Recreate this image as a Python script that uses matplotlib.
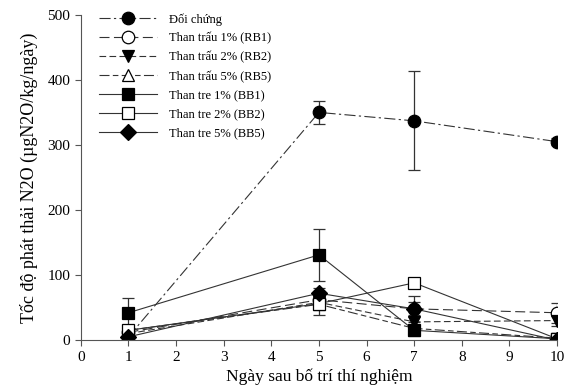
import matplotlib.pyplot as plt

days = [1, 5, 7, 10]

labels = ['Đối chứng', 'Than trấu 1% (RB1)', 'Than trấu 2% (RB2)', 'Than trấu 5% (RB5)',
          'Than tre 1% (BB1)', 'Than tre 2% (BB2)', 'Than tre 5% (BB5)']

dc = [5, 350, 337, 305]
dc_err = [3, 18, 76, 5]
rb1 = [12, 62, 48, 42]
rb1_err = [5, 8, 10, 15]
rb2 = [10, 58, 28, 30]
rb2_err = [4, 6, 8, 8]
rb5 = [15, 55, 18, 3]
rb5_err = [4, 5, 5, 8]
bb1 = [42, 131, 15, 2]
bb1_err = [22, 40, 8, 2]
bb2 = [15, 56, 88, 2]
bb2_err = [5, 18, 3, 2]
bb5 = [5, 72, 48, 0]
bb5_err = [3, 8, 20, 2]

series = [dc, rb1, rb2, rb5, bb1, bb2, bb5]
errors = [dc_err, rb1_err, rb2_err, rb5_err, bb1_err, bb2_err, bb5_err]

styles = [
    dict(marker='o', mfc='black', ls=(0, (10, 3, 2, 3))),
    dict(marker='o', mfc='white', ls=(0, (9, 4))),
    dict(marker='v', mfc='black', ls=(0, (6, 3))),
    dict(marker='^', mfc='white', ls=(0, (9, 3, 5, 3))),
    dict(marker='s', mfc='black', ls='-'),
    dict(marker='s', mfc='white', ls='-'),
    dict(marker='D', mfc='black', ls='-'),
]

plt.rcParams['font.family'] = ['Liberation Serif', 'DejaVu Serif']

fig = plt.figure(figsize=(5.65, 3.9), dpi=100)
ax = fig.add_axes([0.143, 0.128, 0.843, 0.834])

handles = []
for vals, err, lab, st in zip(series, errors, labels, styles):
    ms = 8 if st['marker'] == 'D' else 9
    c = ax.errorbar(days, vals, yerr=err, label=lab, color='#333333', lw=0.8,
                    linestyle=st['ls'], marker=st['marker'], mfc=st['mfc'], mec='black',
                    ms=ms, mew=0.9, ecolor='#333333', elinewidth=0.9, capsize=4, capthick=0.9)
    handles.append(c.lines[0])

ax.set_xlim(0, 10)
ax.set_ylim(0, 500)
ax.set_xticks(range(0, 11))
ax.set_yticks(range(0, 501, 100))
ax.spines['top'].set_visible(False)
ax.spines['right'].set_visible(False)
ax.spines['left'].set_color('#555555')
ax.spines['bottom'].set_color('#555555')
ax.tick_params(direction='out', length=4, color='#555555', labelsize=11)
ax.tick_params(axis='x', pad=4)

ax.set_xlabel('Ngày sau bố trí thí nghiệm', fontsize=12.5, labelpad=3)
ax.set_ylabel('Tốc độ phát thải N2O (µgN2O/kg/ngày)', fontsize=13, labelpad=7)

ax.legend(handles=handles, labels=labels, loc='upper left', bbox_to_anchor=(0.015, 1.04),
          frameon=False, fontsize=9, handlelength=4.6, labelspacing=0.55, handletextpad=1.0)

fig.savefig('out.png', dpi=100)
